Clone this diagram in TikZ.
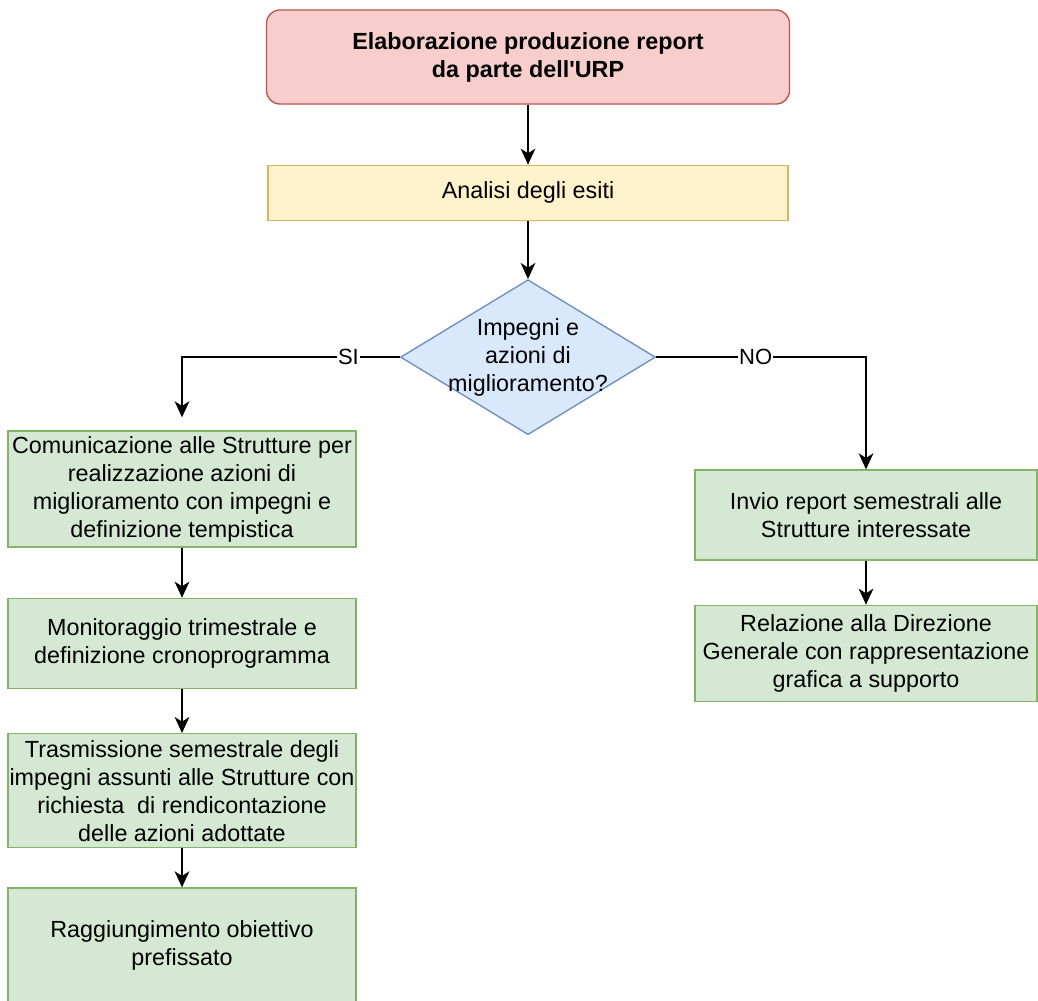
\documentclass[tikz,border=0pt]{standalone}
\usepackage{fontspec}
\setmainfont{Liberation Sans}
\usepackage{tikz}
\usetikzlibrary{bayesnet, positioning, arrows.meta, shapes.geometric}

\definecolor{startfill}{HTML}{F8CECC}
\definecolor{startline}{HTML}{B85450}
\definecolor{anafill}{HTML}{FFF2CC}
\definecolor{analine}{HTML}{D6B656}
\definecolor{decfill}{HTML}{DAE8FC}
\definecolor{decline}{HTML}{6C8EBF}
\definecolor{stepfill}{HTML}{D5E8D4}
\definecolor{stepline}{HTML}{82B366}

\newcommand{\boxfont}{\fontsize{17.5}{21}\selectfont}

\begin{document}
\begin{tikzpicture}[
    every node/.style={font=\boxfont},
    stepbox/.style={rectangle, draw=stepline, fill=stepfill, line width=1pt, inner sep=0pt, align=center},
    flow/.style={line width=1.6pt, -{Stealth[length=12pt, width=11pt, inset=3.5pt]}},
    answer/.style={fill=white, inner sep=1pt, font=\fontsize{16.5}{19}\selectfont}
  ]
  \useasboundingbox (0,0) rectangle (778.5pt,-750pt);

  % top of the flow
  \node[rectangle, rounded corners=10pt, draw=startline, fill=startfill, line width=1pt, inner sep=0pt, align=center,
        minimum width=392.25pt, minimum height=70.5pt] (urp) at (396pt,-42.75pt)
        {\textbf{Elaborazione produzione report}\\\textbf{da parte dell\textquotesingle URP}};
  \node[rectangle, draw=analine, fill=anafill, line width=1pt, inner sep=0pt,
        minimum width=390pt, minimum height=41.25pt, below=45pt of urp] (analisi) {Analisi degli esiti};
  \node[diamond, draw=decline, fill=decfill, line width=1pt, inner sep=0pt,
        minimum width=191.25pt, minimum height=116.25pt, below=43.5pt of analisi,
        label={[align=center, font=\boxfont]center:{Impegni e\\azioni di\\miglioramento?}}] (dec) {};

  % ramo SI
  \node[stepbox, minimum width=261pt, minimum height=87pt] (comunica) at (136.5pt,-366.75pt)
        {Comunicazione alle Strutture per\\realizzazione azioni di\\miglioramento con impegni e\\definizione tempistica};
  \node[stepbox, minimum width=261pt, minimum height=67.5pt, below=37.5pt of comunica] (monitor)
        {Monitoraggio trimestrale e\\definizione cronoprogramma};
  \node[stepbox, minimum width=261pt, minimum height=85.5pt, below=33pt of monitor] (trasm)
        {Trasmissione semestrale degli\\impegni assunti alle Strutture con\\richiesta\ \ di rendicontazione\\delle azioni adottate};
  \node[stepbox, minimum width=261pt, minimum height=85.5pt, below=29.25pt of trasm] (obiett)
        {Raggiungimento obiettivo\\prefissato};

  % ramo NO
  \node[stepbox, minimum width=256.5pt, minimum height=67.5pt] (invio) at (649.5pt,-386.25pt)
        {Invio report semestrali alle\\Strutture interessate};
  \node[stepbox, minimum width=256.5pt, minimum height=72pt, below=33pt of invio] (relaz)
        {Relazione alla Direzione\\Generale con rappresentazione\\grafica a supporto};

  \edge[flow]{urp}{analisi}
  \edge[flow]{analisi}{dec}
  \draw[flow, shorten >=9.75pt] (dec.west) -| node[answer, pos=0.118] (si) {SI} (comunica.north);
  \draw[flow] (dec.east) -| node[answer, pos=0.237] (no) {NO} (invio.north);
  \edge[flow]{comunica}{monitor}
  \edge[flow]{monitor}{trasm}
  \edge[flow]{trasm}{obiett}
  \edge[flow]{invio}{relaz}
\end{tikzpicture}
\end{document}
